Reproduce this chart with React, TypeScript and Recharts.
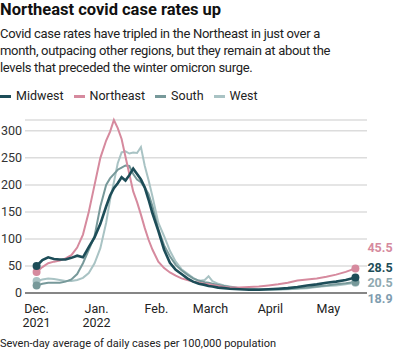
import React from "react";
import {
    LineChart,
    Line,
    XAxis,
    YAxis,
    CartesianGrid,
    LabelList
} from "recharts";

// days since Dec. 1, 2021
const days = [
    0, 3, 6, 9, 12, 15, 18, 21, 24, 27, 30, 33, 36, 38, 40, 42, 44, 46, 48, 50,
    52, 54, 56, 58, 60, 63, 66, 69, 72, 75, 78, 81, 84, 87, 89, 91, 94, 97, 100,
    105, 110, 115, 120, 125, 130, 135, 140, 145, 150, 155, 160, 165
];

const midwest = [
    50, 61, 66, 63, 62, 62, 65, 69, 66, 85, 103, 128, 160, 180, 194, 203, 214, 208, 218, 230,
    220, 210, 195, 172, 147, 115, 80, 56, 43, 35, 27, 21, 17, 15, 13, 12, 10, 9, 8,
    7, 6, 6, 7, 8, 9, 11, 14, 16, 19, 21, 24, 28.5
];

const northeast = [
    39, 48, 55, 58, 60, 64, 70, 84, 108, 150, 200, 250, 282, 298, 320, 305, 285, 252, 220, 188,
    168, 145, 120, 98, 80, 58, 46, 38, 32, 27, 24, 21, 19, 17, 16, 15, 13, 11, 10,
    10, 11, 12, 14, 16, 19, 23, 25, 27, 30, 34, 39, 45.5
];

const south = [
    14, 17, 19, 19, 19, 21, 25, 35, 55, 80, 105, 160, 200, 212, 220, 228, 232, 236, 235, 220,
    210, 205, 195, 183, 160, 118, 88, 68, 52, 42, 34, 27, 23, 20, 19, 17, 15, 13, 11,
    9, 8, 7, 7, 7, 8, 9, 10, 12, 14, 16, 18, 20.5
];

const west = [
    22, 25, 27, 26, 24, 22, 22, 24, 28, 37, 55, 83, 130, 172, 205, 240, 260, 262, 258, 260,
    259, 270, 235, 208, 178, 130, 105, 78, 58, 44, 36, 28, 22, 24, 31, 22, 17, 14, 12,
    9, 7, 6, 6, 6, 7, 8, 9, 11, 13, 14, 16, 18.9
];

const monthTicks = [0, 31, 62, 90, 121, 151];
const monthLabels = ["Dec.", "Jan.", "Feb.", "March", "April", "May"];
const yearLabels = ["2021", "2022", "", "", "", ""];
const yTicks = [0, 50, 100, 150, 200, 250, 300];

const data = days.map((d, i) => ({
    day: d,
    Midwest: midwest[i],
    Northeast: northeast[i],
    South: south[i],
    West: west[i]
}));

const series = [
    { key: "Midwest", color: "#1d4d58", labelColor: "#1d4d58", width: 2.6, labelDy: -10 },
    { key: "Northeast", color: "#d68a9e", labelColor: "#d68a9e", width: 2, labelDy: -21 },
    { key: "South", color: "#77999a", labelColor: "#8fa9b0", width: 2, labelDy: 1 },
    { key: "West", color: "#a9c3c4", labelColor: "#7f9db0", width: 2, labelDy: 16 }
];
const drawOrder = ["West", "South", "Northeast", "Midwest"];

const FONT = "Roboto, 'Liberation Sans', sans-serif";
const last = days.length - 1;

const MonthTick = ({ x, y, payload }: any) => (
    <g>
        <text x={x} y={y + 12} textAnchor="middle" fontSize={12.5} fill="#222" fontFamily={FONT}>
            {monthLabels[monthTicks.indexOf(payload.value)]}
        </text>
        <text x={x} y={y + 26} textAnchor="middle" fontSize={12.5} fill="#222" fontFamily={FONT}>
            {yearLabels[monthTicks.indexOf(payload.value)]}
        </text>
    </g>
);

export default function App() {
    return (
        <div style={{ position: "absolute", left: 0, top: 0, width: 400, height: 355, fontFamily: FONT, background: "#fff" }}>
            <div style={{ position: "absolute", left: 0, top: 0, fontSize: 16.5, fontWeight: 700, color: "#111", lineHeight: "20px" }}>
                Northeast covid case rates up
            </div>
            <div style={{ position: "absolute", left: 0, top: 25, width: 400, fontSize: 13, letterSpacing: "-0.3px", color: "#222", lineHeight: "17px" }}>
                Covid case rates have tripled in the Northeast in just over a<br />
                month, outpacing other regions, but they remain at about the<br />
                levels that preceded the winter omicron surge.
            </div>
            <div style={{ position: "absolute", left: 0, top: 88, display: "flex", fontSize: 12.5, color: "#222", lineHeight: "16px" }}>
                {series.map((s) => (
                    <div key={s.key} style={{ display: "flex", alignItems: "center", marginRight: 10 }}>
                        <span style={{ display: "inline-block", width: 11, height: 3, background: s.color, marginRight: 5 }} />
                        {s.key}
                    </div>
                ))}
            </div>
            <div style={{ position: "absolute", left: 0, top: 0 }}>
                <LineChart
                    width={400}
                    height={355}
                    data={data}
                    margin={{ top: 120, right: 33, bottom: 22, left: 0 }}
                >
                    <CartesianGrid vertical={false} stroke="#dcdcdc" strokeWidth={1.5} />
                    <XAxis
                        dataKey="day"
                        type="number"
                        domain={[-6, 171]}
                        ticks={monthTicks}
                        height={40}
                        tickLine={false}
                        axisLine={{ stroke: "#666", strokeWidth: 1.5 }}
                        tick={<MonthTick />}
                        interval={0}
                    />
                    <YAxis
                        domain={[0, 320]}
                        ticks={yTicks}
                        width={25}
                        tickLine={false}
                        axisLine={false}
                        tickSize={0}
                        tickMargin={3}
                        tick={{ fontSize: 12.5, fill: "#333", fontFamily: FONT }}
                        interval={0}
                    />
                    {drawOrder.map((k) => {
                        const s = series.find((x) => x.key === k)!;
                        return (
                            <Line
                                key={k}
                                type="linear"
                                dataKey={k}
                                stroke={s.color}
                                strokeWidth={s.width}
                                isAnimationActive={false}
                                dot={(p: any) =>
                                    p.index === 0 || p.index === last ? (
                                        <circle key={k + p.index} cx={p.cx} cy={p.cy} r={4} fill={s.color} />
                                    ) : (
                                        <g key={k + p.index} />
                                    )
                                }
                                activeDot={false}
                            >
                                <LabelList
                                    dataKey={k}
                                    content={(p: any) =>
                                        p.index === last ? (
                                            <text
                                                x={p.x + 12}
                                                y={p.y + s.labelDy}
                                                dominantBaseline="central"
                                                fontSize={12.5}
                                                fontWeight={700}
                                                fill={s.labelColor}
                                                fontFamily={FONT}
                                            >
                                                {p.value}
                                            </text>
                                        ) : null
                                    }
                                />
                            </Line>
                        );
                    })}
                </LineChart>
            </div>
            <div style={{ position: "absolute", left: 0, top: 337, fontSize: 11, color: "#222", lineHeight: "14px" }}>
                Seven-day average of daily cases per 100,000 population
            </div>
        </div>
    );
}
